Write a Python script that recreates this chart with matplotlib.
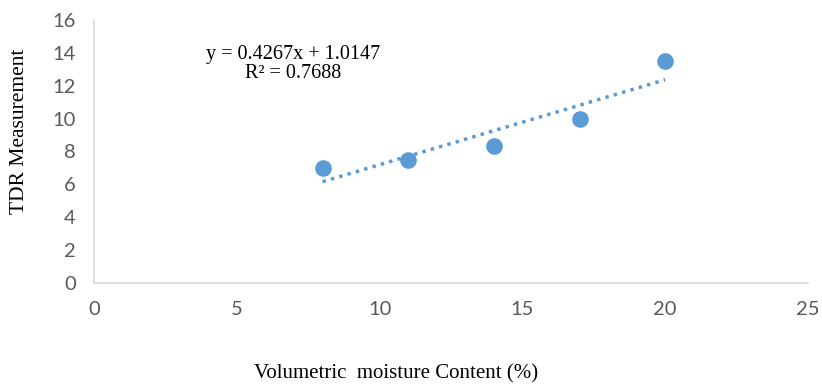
import numpy as np
import matplotlib.pyplot as plt

# Volumetric moisture content (%) vs TDR reading
moisture = [8, 11, 14, 17, 20]
tdr = [7.0, 7.5, 8.3, 10.0, 13.5]

eq_text = "y = 0.4267x + 1.0147\nR² = 0.7688"

blue = "#5B9BD5"
grey = "#595959"

fig = plt.figure(figsize=(8.22, 3.87), dpi=100)
ax = fig.add_axes([0.1144, 0.2687, 0.8686, 0.680])

ax.scatter(moisture, tdr, s=120, color=blue, zorder=3)

# linear trendline
coef = np.polyfit(moisture, tdr, 1)
xs = np.array([min(moisture), max(moisture)])
ax.plot(xs, np.polyval(coef, xs), linestyle=(0, (1, 1.5)), linewidth=2.5, color=blue, zorder=2)

fig.text(293 / 822, 1 - 64 / 387, eq_text, ha="center", va="center", fontsize=14.5,
         family="Liberation Serif", color="black", linespacing=1.0)

ax.set_xlim(0, 25)
ax.set_ylim(0, 16)
ax.set_xticks(range(0, 26, 5))
ax.set_yticks(range(0, 17, 2))
ax.tick_params(length=0, labelsize=14.5, labelcolor=grey, pad=13)
for lab in ax.get_xticklabels() + ax.get_yticklabels():
    lab.set_family("Lato")

for s in ["top", "right"]:
    ax.spines[s].set_visible(False)
for s in ["left", "bottom"]:
    ax.spines[s].set_color("#D9D9D9")
    ax.spines[s].set_linewidth(1.2)

fig.text(396 / 822, 1 - 374 / 387, "Volumetric  moisture Content (%)", ha="center", va="center",
         family="Liberation Serif", fontsize=15)
fig.text(20 / 822, 1 - 131 / 387, "TDR Measurement", ha="center", va="center", rotation=90,
         family="Liberation Serif", fontsize=15.5)

fig.savefig("out.png", dpi=100)
